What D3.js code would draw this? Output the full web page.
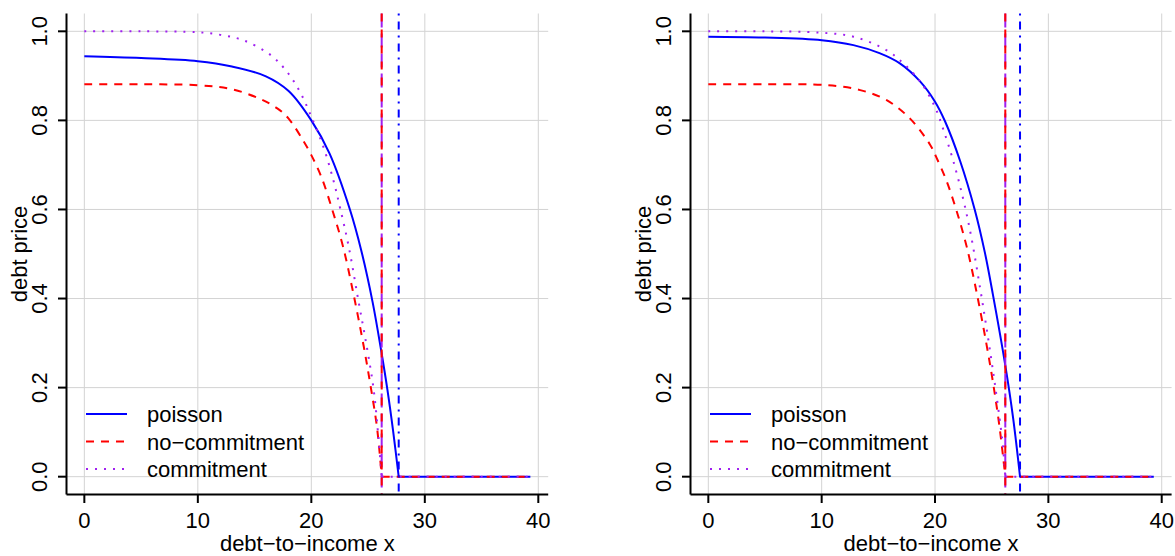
<!DOCTYPE html>
<html>
<head>
<meta charset="utf-8">
<script src="https://cdn.jsdelivr.net/npm/d3@7"></script>
<style>
  body { margin: 0; background: #fff; }
  svg text { font-family: "Liberation Sans", Arial, Helvetica, sans-serif; fill: #000; }
</style>
</head>
<body>
<svg id="chart" width="1175" height="556"></svg>
<script>
// ---- data ----
// left panel
const poissonLx = [0, 5, 10, 13, 16, 18, 20, 21.6, 23.4, 24.4, 25.4, 26.2, 26.7, 27.2, 27.7, 39.3];
const poissonLy = [0.944, 0.940, 0.933, 0.921, 0.899, 0.866, 0.800, 0.726, 0.600, 0.508, 0.392, 0.276, 0.196, 0.104, 0, 0];
const noCommitLx = [0, 5, 10, 13, 15.5, 17, 18, 19.3, 20, 20.9, 21.9, 22.8, 23.7, 24.6, 25.2, 25.8, 26.2, 39.3];
const noCommitLy = [0.881, 0.881, 0.879, 0.870, 0.848, 0.827, 0.804, 0.754, 0.722, 0.672, 0.595, 0.516, 0.412, 0.295, 0.207, 0.108, 0, 0];
const commitLx = [0, 5, 10, 12, 14, 16.4, 17.8, 19, 20, 21.07, 21.95, 22.55, 23.3, 24.15, 24.9, 25.5, 25.9, 26.2, 39.3];
const commitLy = [1.0, 1.0, 0.998, 0.992, 0.980, 0.947, 0.911, 0.864, 0.808, 0.740, 0.665, 0.602, 0.516, 0.395, 0.290, 0.194, 0.092, 0, 0];
const cutoffsL = { noCommit: 26.2, poisson: 27.7 };

// right panel
const poissonRx = [0, 5, 10, 12.8, 15.1, 16.9, 18.7, 20, 20.9, 22.2, 23.5, 24.4, 25.1, 26.2, 26.9, 27.5, 39.3];
const poissonRy = [0.988, 0.986, 0.980, 0.969, 0.951, 0.928, 0.887, 0.842, 0.797, 0.710, 0.600, 0.503, 0.410, 0.250, 0.130, 0, 0];
const noCommitRx = [0, 5, 10.5, 13.4, 15.7, 17.8, 19.55, 20.1, 21, 21.9, 22.8, 23.7, 24.55, 25.1, 25.7, 26.2, 39.3];
const noCommitRy = [0.881, 0.881, 0.879, 0.868, 0.846, 0.804, 0.746, 0.718, 0.665, 0.597, 0.516, 0.410, 0.296, 0.214, 0.110, 0, 0];
const commitRx = [0, 5, 9.9, 12.8, 15.7, 17.2, 18.7, 20, 20.7, 21.6, 22.5, 23.2, 24, 24.55, 25.1, 25.7, 26, 26.2, 39.3];
const commitRy = [1.0, 1.0, 0.997, 0.988, 0.958, 0.928, 0.887, 0.830, 0.782, 0.710, 0.622, 0.538, 0.420, 0.333, 0.240, 0.130, 0.066, 0, 0];
const cutoffsR = { noCommit: 26.2, poisson: 27.5 };

const xTicks = [0, 10, 20, 30, 40];
const yTicks = [0, 0.2, 0.4, 0.6, 0.8, 1.0];
const seriesNames = ["poisson", "no\u2212commitment", "commitment"];
const xLabel = "debt\u2212to\u2212income x";
const yLabel = "debt price";

// ---- styles ----
const blue = "#0000FF", red = "#FF0000", purple = "#A020F0", grid = "#D3D3D3";
const fs = 22;
const styles = [
  { color: blue, dash: null },
  { color: red, dash: "8,7" },
  { color: purple, dash: "2,7" }
];

const svg = d3.select("#chart");
const plotTop = 13.5, plotBottom = 494.5;

const panels = [
  { left: 66.5, right: 548.2,
    series: [[poissonLx, poissonLy], [noCommitLx, noCommitLy], [commitLx, commitLy]],
    cut: cutoffsL },
  { left: 690.5, right: 1171.6,
    series: [[poissonRx, poissonRy], [noCommitRx, noCommitRy], [commitRx, commitRy]],
    cut: cutoffsR }
];

function zip(xs, ys) { return xs.map((x, i) => ({ x: x, y: ys[i] })); }

panels.forEach(p => {
  const x = d3.scaleLinear().domain([-1.572, 40.872]).range([p.left, p.right]);
  const y = d3.scaleLinear().domain([-0.04, 1.04]).range([plotBottom, plotTop]);
  const g = svg.append("g");

  // grid
  g.selectAll(".gx").data(xTicks).enter().append("line")
    .attr("x1", d => x(d)).attr("x2", d => x(d))
    .attr("y1", plotTop).attr("y2", plotBottom)
    .attr("stroke", grid).attr("stroke-width", 1);
  g.selectAll(".gy").data(yTicks).enter().append("line")
    .attr("x1", p.left).attr("x2", p.right)
    .attr("y1", d => y(d)).attr("y2", d => y(d))
    .attr("stroke", grid).attr("stroke-width", 1);

  // curves: falling part smooth, zero part straight
  const curve = d3.line().x(d => x(d.x)).y(d => y(d.y)).curve(d3.curveCatmullRom.alpha(0.5));
  const straight = d3.line().x(d => x(d.x)).y(d => y(d.y));
  p.series.forEach((s, i) => {
    const pts = zip(s[0], s[1]);
    const k = pts.findIndex(d => d.y === 0);
    [[pts.slice(0, k + 1), curve], [pts.slice(k), straight]].forEach(([seg, gen]) => {
      g.append("path").datum(seg)
        .attr("d", gen)
        .attr("fill", "none")
        .attr("stroke", styles[i].color)
        .attr("stroke-width", 2)
        .attr("stroke-dasharray", styles[i].dash);
    });
  });

  // vertical cutoff lines
  const vline = (v, color, dash) => g.append("line")
    .attr("x1", x(v)).attr("x2", x(v)).attr("y1", plotTop).attr("y2", plotBottom)
    .attr("stroke", color).attr("stroke-width", 2).attr("stroke-dasharray", dash);
  vline(p.cut.noCommit, purple, "14,6");
  vline(p.cut.noCommit, red, "8,8");
  vline(p.cut.poisson, blue, "2,6,8,6");

  // axes (L shape)
  g.append("line").attr("x1", p.left).attr("x2", p.left).attr("y1", plotTop).attr("y2", plotBottom)
    .attr("stroke", "#000").attr("stroke-width", 2);
  g.append("line").attr("x1", p.left).attr("x2", p.right).attr("y1", plotBottom).attr("y2", plotBottom)
    .attr("stroke", "#000").attr("stroke-width", 2);

  g.selectAll(".tx").data(xTicks).enter().append("line")
    .attr("x1", d => x(d)).attr("x2", d => x(d))
    .attr("y1", plotBottom).attr("y2", plotBottom + 8.5)
    .attr("stroke", "#000").attr("stroke-width", 2);
  g.selectAll(".lx").data(xTicks).enter().append("text")
    .attr("x", d => x(d)).attr("y", 528)
    .attr("text-anchor", "middle").attr("font-size", fs)
    .text(d => d3.format("d")(d));

  g.selectAll(".ty").data(yTicks).enter().append("line")
    .attr("x1", p.left - 8.5).attr("x2", p.left)
    .attr("y1", d => y(d)).attr("y2", d => y(d))
    .attr("stroke", "#000").attr("stroke-width", 2);
  g.selectAll(".ly").data(yTicks).enter().append("text")
    .attr("transform", d => `translate(${p.left - 19.5},${y(d)}) rotate(-90)`)
    .attr("text-anchor", "middle").attr("font-size", fs)
    .text(d => d3.format(".1f")(d));

  // axis titles
  g.append("text")
    .attr("x", (p.left + p.right) / 2).attr("y", 551)
    .attr("text-anchor", "middle").attr("font-size", fs)
    .text(xLabel);
  g.append("text")
    .attr("transform", `translate(${p.left - 39.5},${(plotTop + plotBottom) / 2}) rotate(-90)`)
    .attr("text-anchor", "middle").attr("font-size", fs)
    .text(yLabel);

  // legend
  const legY = [414, 441.5, 469];
  seriesNames.forEach((name, i) => {
    g.append("line")
      .attr("x1", p.left + 19.5).attr("x2", p.left + 60.5)
      .attr("y1", legY[i]).attr("y2", legY[i])
      .attr("stroke", styles[i].color).attr("stroke-width", 2)
      .attr("stroke-dasharray", styles[i].dash);
    g.append("text")
      .attr("x", p.left + 80.5).attr("y", legY[i] + 8)
      .attr("font-size", fs)
      .text(name);
  });
});
</script>
</body>
</html>
